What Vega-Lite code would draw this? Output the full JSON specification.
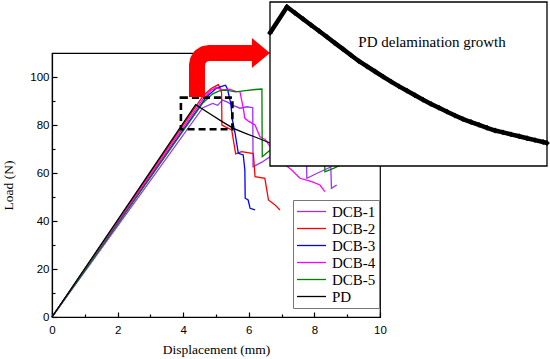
{
  "$schema": "https://vega.github.io/schema/vega-lite/v6.json",
  "width": 328,
  "height": 264,
  "autosize": {"type": "none"},
  "padding": {"left": 52, "top": 53, "right": 170, "bottom": 42},
  "background": "white",
  "config": {
    "view": {"stroke": "#000", "strokeWidth": 1.2},
    "axis": {
      "domainColor": "#000", "domainWidth": 1.2, "tickColor": "#000", "tickWidth": 1.2,
      "labelFont": "Liberation Sans", "labelFontSize": 11.5, "labelColor": "#000",
      "titleFont": "Liberation Serif", "titleFontSize": 13.5, "titleFontWeight": "normal", "titleColor": "#000",
      "grid": false
    }
  },
  "datasets": {
    "curves": [
      {"series": "DCB-1", "disp": 0, "load": 0}, {"series": "DCB-1", "disp": 4.6, "load": 87.2}, {"series": "DCB-1", "disp": 4.9, "load": 89}, {"series": "DCB-1", "disp": 5.05, "load": 88.2}, {"series": "DCB-1", "disp": 5.2, "load": 90.4}, {"series": "DCB-1", "disp": 5.35, "load": 89.5}, {"series": "DCB-1", "disp": 5.5, "load": 88.3}, {"series": "DCB-1", "disp": 5.73, "load": 87}, {"series": "DCB-1", "disp": 5.95, "load": 87.6}, {"series": "DCB-1", "disp": 6.12, "load": 87.2}, {"series": "DCB-1", "disp": 6.13, "load": 62.6}, {"series": "DCB-1", "disp": 6.4, "load": 64.5}, {"series": "DCB-1", "disp": 6.65, "load": 66.8}, {"series": "DCB-1", "disp": 7.2, "load": 68}, {"series": "DCB-1", "disp": 7.76, "load": 65}, {"series": "DCB-1", "disp": 7.77, "load": 57.8}, {"series": "DCB-1", "disp": 8.1, "load": 60}, {"series": "DCB-1", "disp": 8.5, "load": 62.5}, {"series": "DCB-1", "disp": 8.52, "load": 53.6}, {"series": "DCB-1", "disp": 8.68, "load": 55},
      {"series": "DCB-2", "disp": 0, "load": 0}, {"series": "DCB-2", "disp": 4.6, "load": 92}, {"series": "DCB-2", "disp": 4.85, "load": 95.2}, {"series": "DCB-2", "disp": 5.0, "load": 96.3}, {"series": "DCB-2", "disp": 5.07, "load": 96.8}, {"series": "DCB-2", "disp": 5.12, "load": 95.5}, {"series": "DCB-2", "disp": 5.17, "load": 93.5}, {"series": "DCB-2", "disp": 5.18, "load": 80}, {"series": "DCB-2", "disp": 5.27, "load": 79.3}, {"series": "DCB-2", "disp": 5.48, "load": 77.9}, {"series": "DCB-2", "disp": 5.55, "load": 72}, {"series": "DCB-2", "disp": 5.6, "load": 68}, {"series": "DCB-2", "disp": 5.78, "load": 68.9}, {"series": "DCB-2", "disp": 6.14, "load": 68.1}, {"series": "DCB-2", "disp": 6.19, "load": 58.5}, {"series": "DCB-2", "disp": 6.49, "load": 57.8}, {"series": "DCB-2", "disp": 6.6, "load": 48.75}, {"series": "DCB-2", "disp": 6.8, "load": 46.7}, {"series": "DCB-2", "disp": 6.95, "load": 44.6},
      {"series": "DCB-3", "disp": 0, "load": 0}, {"series": "DCB-3", "disp": 4.7, "load": 91.6}, {"series": "DCB-3", "disp": 5.0, "load": 95.2}, {"series": "DCB-3", "disp": 5.15, "load": 96}, {"series": "DCB-3", "disp": 5.29, "load": 96.6}, {"series": "DCB-3", "disp": 5.35, "load": 95}, {"series": "DCB-3", "disp": 5.45, "load": 89}, {"series": "DCB-3", "disp": 5.5, "load": 82.1}, {"series": "DCB-3", "disp": 5.58, "load": 76.7}, {"series": "DCB-3", "disp": 5.68, "load": 68.2}, {"series": "DCB-3", "disp": 5.83, "load": 67.5}, {"series": "DCB-3", "disp": 5.88, "load": 61.25}, {"series": "DCB-3", "disp": 5.89, "load": 49.5}, {"series": "DCB-3", "disp": 5.98, "load": 48.75}, {"series": "DCB-3", "disp": 6.04, "load": 45.3}, {"series": "DCB-3", "disp": 6.19, "load": 44.6},
      {"series": "DCB-4", "disp": 0, "load": 0}, {"series": "DCB-4", "disp": 4.6, "load": 90.8}, {"series": "DCB-4", "disp": 4.85, "load": 94.5}, {"series": "DCB-4", "disp": 5.0, "load": 95.6}, {"series": "DCB-4", "disp": 5.2, "load": 94.6}, {"series": "DCB-4", "disp": 5.4, "load": 94.9}, {"series": "DCB-4", "disp": 5.6, "load": 94}, {"series": "DCB-4", "disp": 5.73, "load": 93.9}, {"series": "DCB-4", "disp": 5.83, "load": 87}, {"series": "DCB-4", "disp": 5.88, "load": 82.8}, {"series": "DCB-4", "disp": 6.0, "load": 81.5}, {"series": "DCB-4", "disp": 6.19, "load": 80}, {"series": "DCB-4", "disp": 6.34, "load": 75.1}, {"series": "DCB-4", "disp": 6.5, "load": 74}, {"series": "DCB-4", "disp": 6.65, "load": 71}, {"series": "DCB-4", "disp": 6.9, "load": 67}, {"series": "DCB-4", "disp": 7.05, "load": 64}, {"series": "DCB-4", "disp": 7.31, "load": 61.25}, {"series": "DCB-4", "disp": 7.56, "load": 57.8}, {"series": "DCB-4", "disp": 7.92, "load": 56.4}, {"series": "DCB-4", "disp": 8.17, "load": 55}, {"series": "DCB-4", "disp": 8.32, "load": 52.2},
      {"series": "DCB-5", "disp": 0, "load": 0}, {"series": "DCB-5", "disp": 4.6, "load": 89.2}, {"series": "DCB-5", "disp": 4.9, "load": 93}, {"series": "DCB-5", "disp": 5.1, "load": 94.2}, {"series": "DCB-5", "disp": 5.3, "load": 94.5}, {"series": "DCB-5", "disp": 5.6, "load": 93.8}, {"series": "DCB-5", "disp": 5.9, "load": 94.3}, {"series": "DCB-5", "disp": 6.2, "load": 94.8}, {"series": "DCB-5", "disp": 6.4, "load": 95}, {"series": "DCB-5", "disp": 6.41, "load": 66.8}, {"series": "DCB-5", "disp": 6.65, "load": 69.5}, {"series": "DCB-5", "disp": 7.4, "load": 71}, {"series": "DCB-5", "disp": 8.3, "load": 72}, {"series": "DCB-5", "disp": 8.32, "load": 60.5}, {"series": "DCB-5", "disp": 8.6, "load": 62}, {"series": "DCB-5", "disp": 8.9, "load": 64}, {"series": "DCB-5", "disp": 9.15, "load": 64.8},
      {"series": "PD", "disp": 0, "load": 0}, {"series": "PD", "disp": 4.38, "load": 88.5}, {"series": "PD", "disp": 4.8, "load": 84.8}, {"series": "PD", "disp": 5.2, "load": 81.3}, {"series": "PD", "disp": 5.53, "load": 78.6}, {"series": "PD", "disp": 5.9, "load": 76.5}, {"series": "PD", "disp": 6.19, "load": 75.0}, {"series": "PD", "disp": 6.65, "load": 72.5}, {"series": "PD", "disp": 7.0, "load": 70.8}
    ],
    "arrow": [
      {"disp": 4.42, "load": 91.67}, {"disp": 4.421, "load": 105}, {"disp": 4.448, "load": 106.92}, {"disp": 4.527, "load": 108.54}, {"disp": 4.646, "load": 109.63}, {"disp": 4.787, "load": 110}, {"disp": 6.12, "load": 110}
    ],
    "arrowhead": [{"disp": 6.37, "load": 110}],
    "box": [{"disp": 3.93, "disp2": 5.5, "load": 78.2, "load2": 91.4}],
    "zoom": [
      {"disp": 4.2, "load": 85.98}, {"disp": 4.347, "load": 88.51}, {"disp": 4.417, "load": 87.93}, {"disp": 4.486, "load": 87.34}, {"disp": 4.555, "load": 86.76}, {"disp": 4.625, "load": 86.17}, {"disp": 4.694, "load": 85.59}, {"disp": 4.763, "load": 84.99}, {"disp": 4.833, "load": 84.40}, {"disp": 4.902, "load": 83.81}, {"disp": 4.971, "load": 83.22}, {"disp": 5.041, "load": 82.71}, {"disp": 5.110, "load": 82.22}, {"disp": 5.179, "load": 81.72}, {"disp": 5.249, "load": 81.23}, {"disp": 5.318, "load": 80.77}, {"disp": 5.387, "load": 80.34}, {"disp": 5.456, "load": 79.90}, {"disp": 5.526, "load": 79.46}, {"disp": 5.595, "load": 79.06}, {"disp": 5.664, "load": 78.68}, {"disp": 5.734, "load": 78.30}, {"disp": 5.803, "load": 77.92}, {"disp": 5.872, "load": 77.58}, {"disp": 5.942, "load": 77.29}, {"disp": 6.011, "load": 77.01}, {"disp": 6.080, "load": 76.73}, {"disp": 6.150, "load": 76.46}, {"disp": 6.219, "load": 76.28}, {"disp": 6.288, "load": 76.09}, {"disp": 6.358, "load": 75.90}, {"disp": 6.427, "load": 75.71}, {"disp": 6.496, "load": 75.53}, {"disp": 6.566, "load": 75.34}, {"disp": 6.600, "load": 75.24}
    ]
  },
  "layer": [
    {
      "encoding": {
        "x": {
          "field": "disp", "type": "quantitative",
          "scale": {"domain": [0, 10], "nice": false, "zero": false},
          "axis": {
            "title": "Displacement (mm)",
            "values": [0, 1, 2, 3, 4, 5, 6, 7, 8, 9, 10],
            "labelExpr": "datum.value % 2 == 0 ? datum.label : ''",
            "tickSize": {"condition": {"test": "datum.value % 2 != 0", "value": -3}, "value": -5},
            "labelPadding": 12, "titlePadding": 7, "labelFlush": false
          }
        },
        "y": {
          "field": "load", "type": "quantitative",
          "scale": {"domain": [0, 110], "nice": false, "zero": false},
          "axis": {
            "title": "Load (N)",
            "values": [0, 10, 20, 30, 40, 50, 60, 70, 80, 90, 100],
            "labelExpr": "datum.value % 20 == 0 ? datum.label : ''",
            "tickSize": {"condition": {"test": "datum.value % 20 != 0", "value": -3}, "value": -5},
            "labelPadding": 8, "titlePadding": 14, "labelFlush": false
          }
        }
      },
      "layer": [
        {
          "data": {"name": "curves"},
          "mark": {"type": "line", "strokeWidth": 1.3},
          "encoding": {
            "color": {
              "field": "series", "type": "nominal",
              "scale": {"domain": ["DCB-1", "DCB-2", "DCB-3", "DCB-4", "DCB-5", "PD"], "range": ["#9b30ff", "#ff0000", "#0000ff", "#ff00ff", "#008000", "#000000"]},
              "legend": {
                "title": null, "orient": "none", "legendX": 241, "legendY": 147,
                "symbolType": "M -1 0 L 2.87 0", "symbolSize": 225, "symbolStrokeWidth": 1.6,
                "labelFont": "Liberation Serif", "labelFontSize": 15, "labelColor": "#000",
                "labelOffset": 19, "padding": 3, "rowPadding": 0,
                "strokeColor": "#777", "fillColor": "white"
              }
            },
            "strokeWidth": {
              "field": "series", "type": "nominal",
              "scale": {"domain": ["DCB-1", "DCB-2", "DCB-3", "DCB-4", "DCB-5", "PD"], "range": [1.3, 1.3, 1.3, 1.3, 1.3, 1.8]},
              "legend": null
            }
          }
        },
        {
          "data": {"name": "box"},
          "mark": {"type": "rect", "fill": null, "fillOpacity": 0, "stroke": "#000", "strokeWidth": 2.6, "strokeDash": [7, 4]},
          "encoding": {"x2": {"field": "disp2"}, "y2": {"field": "load2"}}
        },
        {
          "data": {"name": "arrow"},
          "mark": {"type": "line", "color": "#ff0000", "strokeWidth": 16, "strokeCap": "butt", "strokeJoin": "round"}
        },
        {
          "data": {"name": "arrowhead"},
          "mark": {"type": "point", "shape": "M -0.6 -1 L 0.6 0 L -0.6 1 Z", "size": 900, "filled": true, "color": "#ff0000", "opacity": 1}
        }
      ]
    },
    {
      "encoding": {
        "x": {"field": "disp", "type": "quantitative", "scale": {"domain": [4.2, 6.6], "range": [218, 495], "nice": false, "zero": false}, "axis": null},
        "y": {"field": "load", "type": "quantitative", "scale": {"domain": [73, 89], "range": [113, -51], "nice": false, "zero": false}, "axis": null}
      },
      "layer": [
        {
          "data": {"values": [{"disp": 4.2, "disp2": 6.6, "load": 73, "load2": 89}]},
          "mark": {"type": "rect", "fill": "white", "stroke": "#000", "strokeWidth": 1.3},
          "encoding": {"x2": {"field": "disp2"}, "y2": {"field": "load2"}}
        },
        {
          "data": {"name": "zoom"},
          "mark": {"type": "line", "color": "#000", "strokeWidth": 4.5, "strokeJoin": "miter"}
        },
        {
          "data": {"name": "zoom"},
          "mark": {"type": "point", "shape": "diamond", "size": 34, "filled": true, "color": "#000", "opacity": 1}
        },
        {
          "data": {"values": [{"disp": 5.604, "load": 85.1, "label": "PD delamination growth"}]},
          "mark": {"type": "text", "font": "Liberation Serif", "fontSize": 15, "color": "#000"},
          "encoding": {"text": {"field": "label"}}
        }
      ]
    }
  ],
  "resolve": {"scale": {"x": "independent", "y": "independent"}}
}
